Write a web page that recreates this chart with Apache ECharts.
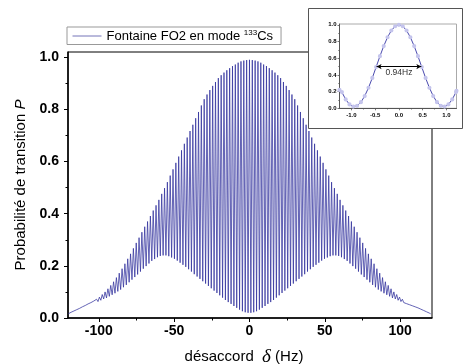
<!DOCTYPE html>
<html><head><meta charset="utf-8">
<script src="https://cdn.jsdelivr.net/npm/echarts@6/dist/echarts.min.js"></script>
<style>html,body{margin:0;padding:0;background:#fff}#c{width:472px;height:364px}</style>
</head><body><div id="c"></div>
<script>
// Main chart: detuning (Hz) at half-fringe steps, alternating fringe maxima / minima
const detuning = [
-120.32,-119.38,-118.44,-117.50,-116.56,-115.62,-114.68,-113.74,-112.80,-111.86,
-110.92,-109.98,-109.04,-108.10,-107.16,-106.22,-105.28,-104.34,-103.40,-102.46,
-101.52,-100.58,-99.64,-98.70,-97.76,-96.82,-95.88,-94.94,-94.00,-93.06,
-92.12,-91.18,-90.24,-89.30,-88.36,-87.42,-86.48,-85.54,-84.60,-83.66,
-82.72,-81.78,-80.84,-79.90,-78.96,-78.02,-77.08,-76.14,-75.20,-74.26,
-73.32,-72.38,-71.44,-70.50,-69.56,-68.62,-67.68,-66.74,-65.80,-64.86,
-63.92,-62.98,-62.04,-61.10,-60.16,-59.22,-58.28,-57.34,-56.40,-55.46,
-54.52,-53.58,-52.64,-51.70,-50.76,-49.82,-48.88,-47.94,-47.00,-46.06,
-45.12,-44.18,-43.24,-42.30,-41.36,-40.42,-39.48,-38.54,-37.60,-36.66,
-35.72,-34.78,-33.84,-32.90,-31.96,-31.02,-30.08,-29.14,-28.20,-27.26,
-26.32,-25.38,-24.44,-23.50,-22.56,-21.62,-20.68,-19.74,-18.80,-17.86,
-16.92,-15.98,-15.04,-14.10,-13.16,-12.22,-11.28,-10.34,-9.40,-8.46,
-7.52,-6.58,-5.64,-4.70,-3.76,-2.82,-1.88,-0.94,
0,0.94,1.88,2.82,3.76,4.70,5.64,6.58,7.52,8.46,
9.40,10.34,11.28,12.22,13.16,14.10,15.04,15.98,16.92,17.86,
18.80,19.74,20.68,21.62,22.56,23.50,24.44,25.38,26.32,27.26,
28.20,29.14,30.08,31.02,31.96,32.90,33.84,34.78,35.72,36.66,
37.60,38.54,39.48,40.42,41.36,42.30,43.24,44.18,45.12,46.06,
47.00,47.94,48.88,49.82,50.76,51.70,52.64,53.58,54.52,55.46,
56.40,57.34,58.28,59.22,60.16,61.10,62.04,62.98,63.92,64.86,
65.80,66.74,67.68,68.62,69.56,70.50,71.44,72.38,73.32,74.26,
75.20,76.14,77.08,78.02,78.96,79.90,80.84,81.78,82.72,83.66,
84.60,85.54,86.48,87.42,88.36,89.30,90.24,91.18,92.12,93.06,
94.00,94.94,95.88,96.82,97.76,98.70,99.64,100.58,101.52,102.46,
103.40,104.34,105.28,106.22,107.16,108.10,109.04,109.98,110.92,111.86,
112.80,113.74,114.68,115.62,116.56,117.50,118.44,119.38,120.32
];
const probability = [
0.016,0.019,0.022,0.024,0.027,0.029,0.032,0.034,0.037,0.039,
0.043,0.043,0.048,0.047,0.054,0.051,0.059,0.055,0.065,0.059,
0.072,0.063,0.080,0.068,0.090,0.073,0.100,0.077,0.112,0.083,
0.125,0.089,0.139,0.095,0.155,0.102,0.172,0.109,0.189,0.118,
0.208,0.127,0.227,0.137,0.246,0.147,0.267,0.157,0.288,0.167,
0.308,0.178,0.329,0.189,0.350,0.199,0.370,0.209,0.391,0.219,
0.412,0.226,0.432,0.233,0.453,0.238,0.476,0.240,0.498,0.240,
0.521,0.237,0.546,0.232,0.570,0.227,0.595,0.220,0.619,0.212,
0.643,0.204,0.668,0.196,0.692,0.187,0.717,0.178,0.741,0.168,
0.766,0.159,0.790,0.150,0.815,0.141,0.839,0.132,0.857,0.123,
0.874,0.114,0.890,0.105,0.905,0.096,0.920,0.087,0.931,0.078,
0.941,0.069,0.950,0.061,0.958,0.054,0.966,0.046,0.972,0.039,
0.979,0.032,0.984,0.026,0.987,0.022,0.989,0.020,
0.990,0.020,0.989,0.022,0.987,0.026,0.984,0.032,0.979,0.039,
0.972,0.046,0.966,0.054,0.958,0.061,0.950,0.069,0.941,0.078,
0.931,0.087,0.920,0.096,0.905,0.105,0.890,0.114,0.874,0.123,
0.857,0.132,0.839,0.141,0.815,0.150,0.790,0.159,0.766,0.168,
0.741,0.178,0.717,0.187,0.692,0.196,0.668,0.204,0.643,0.212,
0.619,0.220,0.595,0.227,0.570,0.232,0.546,0.237,0.521,0.240,
0.498,0.240,0.476,0.238,0.453,0.233,0.432,0.226,0.412,0.219,
0.391,0.209,0.370,0.199,0.350,0.189,0.329,0.178,0.308,0.167,
0.288,0.157,0.267,0.147,0.246,0.137,0.227,0.127,0.208,0.118,
0.189,0.109,0.172,0.102,0.155,0.095,0.139,0.089,0.125,0.083,
0.112,0.077,0.100,0.073,0.090,0.068,0.080,0.063,0.072,0.059,
0.065,0.055,0.059,0.051,0.054,0.047,0.048,0.043,0.043,0.039,
0.037,0.034,0.032,0.029,0.027,0.024,0.022,0.019,0.016
];
const seriesLabel = 'Fontaine FO2 en mode ';
const isotope = '133';
const element = 'Cs';
const xMajorTicks = [-100, -50, 0, 50, 100];
const xMinorTicks = [-75, -25, 25, 75];
const yMajorTicks = [0, 0.2, 0.4, 0.6, 0.8, 1.0];
const yMinorTicks = [0.1, 0.3, 0.5, 0.7, 0.9];

// Inset: central fringe
const insetDetuning = [-1.25,-1.20,-1.12,-1.04,-0.96,-0.88,-0.80,-0.72,-0.64,-0.56,-0.48,-0.40,-0.32,-0.24,-0.16,-0.08,
  0,0.08,0.16,0.24,0.32,0.40,0.48,0.56,0.64,0.72,0.80,0.88,0.96,1.04,1.12,1.20,1.21];
const insetProbability = [0.22,0.194,0.106,0.047,0.021,0.030,0.073,0.147,0.246,0.364,0.494,0.624,0.746,0.851,0.932,0.983,
  1.000,0.983,0.932,0.851,0.746,0.624,0.494,0.364,0.246,0.147,0.073,0.030,0.021,0.047,0.106,0.194,0.21];
const insetXMajor = [-1, -0.5, 0, 0.5, 1];
const insetXMinor = [-0.75, -0.25, 0.25, 0.75];
const insetYMajor = [0, 0.2, 0.4, 0.6, 0.8, 1.0];
const insetYMinor = [0.1, 0.3, 0.5, 0.7, 0.9];
const fwhmLeft = -0.47;
const fwhmRight = 0.47;
const fwhmLevel = 0.5;
const fwhmLabel = '0.94Hz';

const FONT = 'Liberation Sans';
const chart = echarts.init(document.getElementById('c'), null, {renderer: 'canvas'});

const mainX = {min: -120.5, max: 121.2};
const mainY = {min: 0, max: 1.02};
const insX = {min: -1.25, max: 1.21};
const insY = {min: 0, max: 1.01};

function axisBase(extra) {
  return Object.assign({type: 'value', splitLine: {show: false}}, extra);
}

chart.setOption({
  animation: false,
  backgroundColor: '#fff',
  textStyle: {fontFamily: FONT},
  grid: [
    {left: 68, right: 40, top: 52, bottom: 46, show: true, borderColor: '#000', borderWidth: 1, z: 0,
      outerBoundsMode: 'none', containLabel: false},
    {left: 339.5, top: 24, width: 117, height: 84.3, show: true, borderColor: '#aaa', borderWidth: 1, z: 11,
      backgroundColor: 'rgba(0,0,0,0)', outerBoundsMode: 'none', containLabel: false}
  ],
  graphic: [{
    type: 'rect', z: 10, silent: true,
    shape: {x: 308.5, y: 8.5, width: 154, height: 120},
    style: {fill: '#fff', stroke: '#555', lineWidth: 1}
  }],
  legend: {
    left: 67, top: 27, padding: [2, 8, 2, 5], itemWidth: 29, itemHeight: 14,
    borderColor: '#999', borderWidth: 1, backgroundColor: '#fff',
    data: ['main'],
    itemStyle: {opacity: 0},
    lineStyle: {color: '#7474b8', width: 1},
    formatter: () => seriesLabel + '{sup|' + isotope + '}' + element,
    textStyle: {fontFamily: FONT, fontSize: 13, color: '#000',
      rich: {sup: {fontFamily: FONT, fontSize: 8, verticalAlign: 'top', padding: [0, 0, 6, 0], color: '#000'}}}
  },
  xAxis: [
    axisBase(Object.assign({gridIndex: 0, position: 'bottom',
      axisLine: {show: true, onZero: false, lineStyle: {color: '#000', width: 1.5}},
      axisTick: {show: true, customValues: xMajorTicks, length: 4, lineStyle: {color: '#000', width: 1}},
      axisLabel: {customValues: xMajorTicks, fontFamily: FONT, fontWeight: 'bold', fontSize: 14, color: '#000', margin: 6},
      name: 'désaccord  {d|δ} (Hz)', nameLocation: 'middle', nameGap: 29,
      nameTextStyle: {fontFamily: FONT, fontSize: 15, color: '#000', padding: [0, 12, 0, 0],
        rich: {d: {fontFamily: 'Liberation Serif', fontStyle: 'italic', fontSize: 19, color: '#000'}}}
    }, mainX)),
    axisBase(Object.assign({gridIndex: 0, position: 'bottom',
      axisLine: {show: false, onZero: false},
      axisTick: {show: true, customValues: xMinorTicks, length: 2.5, lineStyle: {color: '#000', width: 1}},
      axisLabel: {show: false}
    }, mainX)),
    axisBase(Object.assign({gridIndex: 1, position: 'bottom', z: 11,
      axisLine: {show: true, onZero: false, lineStyle: {color: '#555', width: 1}},
      axisTick: {show: true, customValues: insetXMajor, length: 2, lineStyle: {color: '#555', width: 0.8}},
      axisLabel: {customValues: insetXMajor, formatter: v => v.toFixed(1), fontFamily: FONT, fontWeight: 'bold', fontSize: 6, color: '#000', margin: 4}
    }, insX)),
    axisBase(Object.assign({gridIndex: 1, position: 'bottom', z: 11,
      axisLine: {show: false, onZero: false},
      axisTick: {show: true, customValues: insetXMinor, length: 1.2, lineStyle: {color: '#555', width: 0.8}},
      axisLabel: {show: false}
    }, insX))
  ],
  yAxis: [
    axisBase(Object.assign({gridIndex: 0, position: 'left',
      axisLine: {show: true, onZero: false, lineStyle: {color: '#000', width: 1.5}},
      axisTick: {show: true, customValues: yMajorTicks, length: 4, lineStyle: {color: '#000', width: 1}},
      axisLabel: {customValues: yMajorTicks, formatter: v => v.toFixed(1), fontFamily: FONT, fontWeight: 'bold', fontSize: 14, color: '#000', margin: 9},
      name: 'Probabilité de transition {p|P}', nameLocation: 'middle', nameGap: 40, nameRotate: 90,
      nameTextStyle: {fontFamily: FONT, fontSize: 15, color: '#000',
        rich: {p: {fontFamily: FONT, fontStyle: 'italic', fontSize: 15, color: '#000'}}}
    }, mainY)),
    axisBase(Object.assign({gridIndex: 0, position: 'left',
      axisLine: {show: false, onZero: false},
      axisTick: {show: true, customValues: yMinorTicks, length: 2.5, lineStyle: {color: '#000', width: 1}},
      axisLabel: {show: false}
    }, mainY)),
    axisBase(Object.assign({gridIndex: 1, position: 'left', z: 11,
      axisLine: {show: true, onZero: false, lineStyle: {color: '#555', width: 1}},
      axisTick: {show: true, customValues: insetYMajor, length: 2, lineStyle: {color: '#555', width: 0.8}},
      axisLabel: {customValues: insetYMajor, formatter: v => v.toFixed(1), fontFamily: FONT, fontWeight: 'bold', fontSize: 6, color: '#000', margin: 3}
    }, insY)),
    axisBase(Object.assign({gridIndex: 1, position: 'left', z: 11,
      axisLine: {show: false, onZero: false},
      axisTick: {show: true, customValues: insetYMinor, length: 1.2, lineStyle: {color: '#555', width: 0.8}},
      axisLabel: {show: false}
    }, insY))
  ],
  series: [
    {
      name: 'main', type: 'line', xAxisIndex: 0, yAxisIndex: 0, z: 2,
      data: detuning.map((d, i) => [d, probability[i]]),
      symbol: 'none', silent: true,
      lineStyle: {color: '#30309c', width: 0.75},
      itemStyle: {color: '#5a5ab0'}
    },
    {
      name: 'inset', type: 'line', xAxisIndex: 2, yAxisIndex: 2, z: 12,
      data: insetDetuning.map((d, i) => [d, insetProbability[i]]),
      symbol: 'emptyCircle', symbolSize: 2.2, showSymbol: true, silent: true,
      lineStyle: {color: '#3535a5', width: 0.9},
      itemStyle: {color: '#c4c4ec', borderColor: '#c4c4ec', borderWidth: 0.6},
      markLine: {
        silent: true, z: 14, symbol: ['arrow', 'arrow'], symbolSize: [4, 5],
        lineStyle: {color: '#000', width: 1, type: 'solid'},
        label: {show: true, formatter: fwhmLabel, position: 'insideMiddleBottom', fontFamily: FONT, fontSize: 8.5, color: '#333', distance: 2},
        data: [[{coord: [fwhmLeft, fwhmLevel]}, {coord: [fwhmRight, fwhmLevel]}]]
      }
    }
  ]
});
</script></body></html>
